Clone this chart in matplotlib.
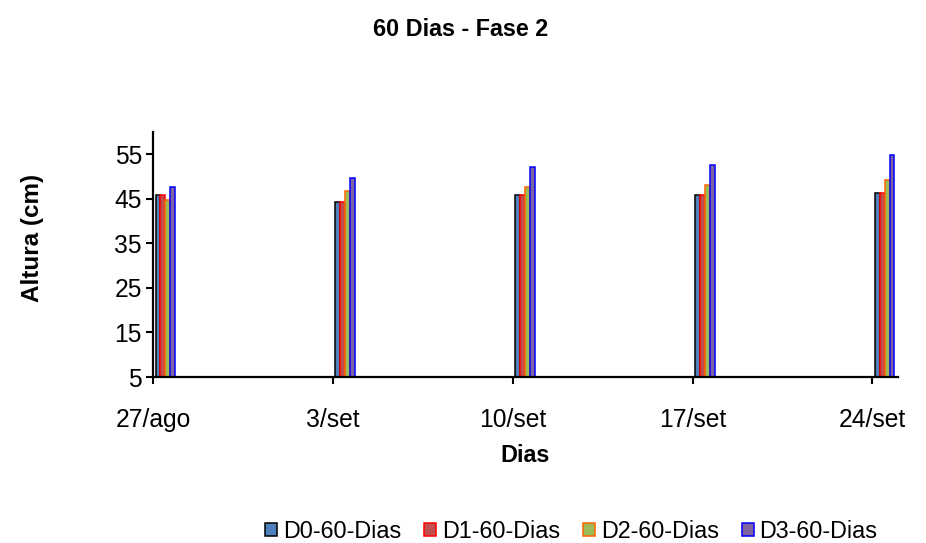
import numpy as np
import matplotlib.pyplot as plt

plt.rcParams['font.family'] = ['Liberation Sans', 'DejaVu Sans']

# dias desde 27/ago
dias = [0, 7, 14, 21, 28]
datas = ['27/ago', '3/set', '10/set', '17/set', '24/set']

d0 = [45.9, 44.2, 45.9, 45.9, 46.3]
d1 = [45.9, 44.2, 45.9, 45.9, 46.3]
d2 = [44.7, 46.8, 47.7, 48.1, 49.3]
d3 = [47.7, 49.6, 52.2, 52.7, 54.8]

series = [d0, d1, d2, d3]
nomes = ['D0-60-Dias', 'D1-60-Dias', 'D2-60-Dias', 'D3-60-Dias']
fills = ['#4F81BD', '#C0504D', '#9BBB59', '#8064A2']
edges = ['#000000', '#FF0000', '#FF6600', '#0000FF']

fig = plt.figure(figsize=(9.26, 5.43), dpi=100)
ax = fig.add_axes([0.1652, 0.3057, 0.8046, 0.4512])

x = np.array(dias, dtype=float)
w = 0.19
for i, vals in enumerate(series):
    ax.bar(x + 0.1 + i * w, np.array(vals) - 5, bottom=5, width=w, align='edge',
           color=fills[i], edgecolor=edges[i], linewidth=1.1, label=nomes[i])

ax.set_xlim(0, 29)
ax.set_ylim(5, 60)
ax.set_yticks([5, 15, 25, 35, 45, 55])
ax.set_xticks(dias)
ax.set_xticklabels(datas)
ax.tick_params(axis='both', labelsize=17.7, width=1.5, length=5, direction='out')
ax.tick_params(axis='x', pad=17)
ax.tick_params(axis='y', pad=3)
for s in ['top', 'right']:
    ax.spines[s].set_visible(False)
for s in ['left', 'bottom']:
    ax.spines[s].set_linewidth(1.6)

ax.set_xlabel('Dias', fontsize=16.8, fontweight='bold', labelpad=9)
fig.text(0.0356, 0.5617, 'Altura (cm)', rotation=90, ha='center', va='center',
         fontsize=17.5, fontweight='bold')
fig.suptitle('60 Dias - Fase 2', x=0.497, y=0.967, fontsize=16.8, fontweight='bold')

fig.legend(loc='center', bbox_to_anchor=(0.617, 0.022), ncol=4, frameon=False,
           fontsize=16.8, handlelength=0.5, handleheight=0.5, handletextpad=0.25,
           columnspacing=1.0, borderpad=0)

fig.savefig('out.png', dpi=100)
